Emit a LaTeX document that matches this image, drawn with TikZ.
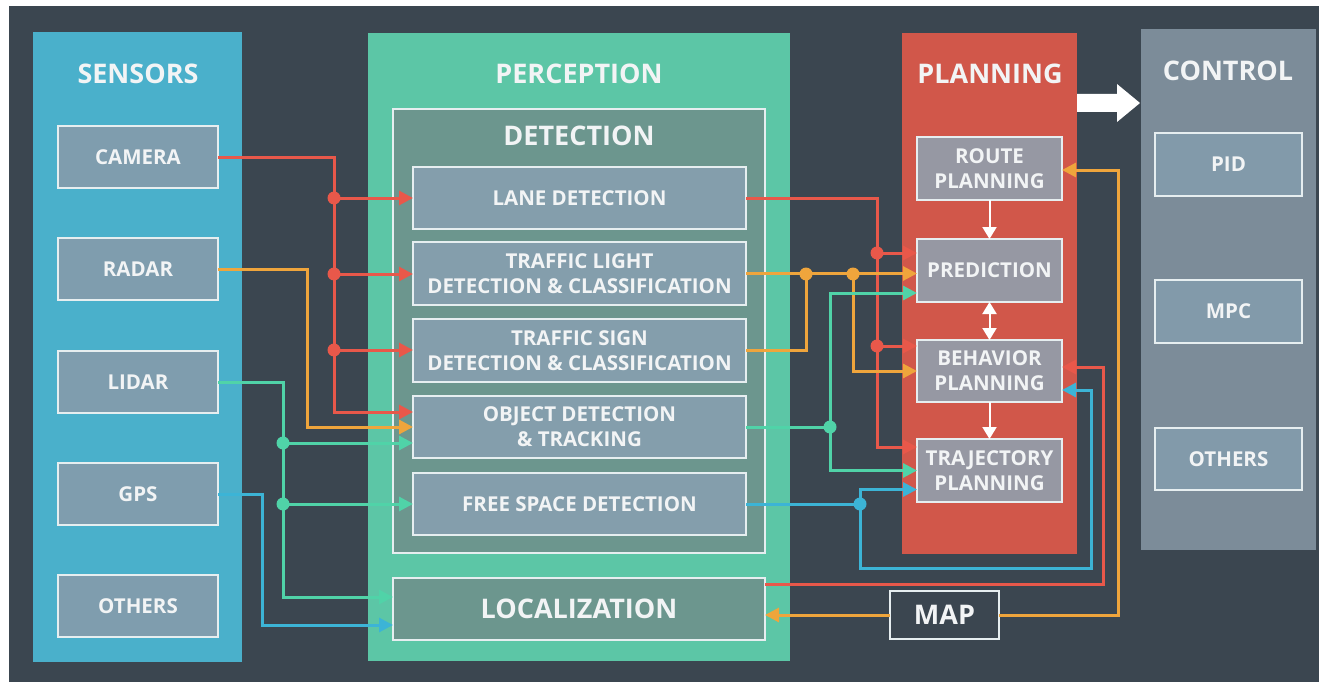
\documentclass[tikz,border=0pt]{standalone}
\usepackage{fontspec}
\setmainfont{Open Sans}
\usetikzlibrary{arrows.meta,calc}
\definecolor{bg}{HTML}{3B4650}
\definecolor{sens}{HTML}{4AB0CB}
\definecolor{sensbox}{HTML}{7F9DAE}
\definecolor{perc}{HTML}{5CC6A6}
\definecolor{detin}{HTML}{6C968E}
\definecolor{detbox}{HTML}{849EAC}
\definecolor{plan}{HTML}{D1574A}
\definecolor{planbox}{HTML}{9698A3}
\definecolor{ctrl}{HTML}{7C8C99}
\definecolor{ctrlbox}{HTML}{829AAA}
\definecolor{cred}{HTML}{E8584A}
\definecolor{corg}{HTML}{EFA53C}
\definecolor{cteal}{HTML}{50D3A8}
\definecolor{cblue}{HTML}{3CB4D6}
\definecolor{wline}{HTML}{E6EEF0}
\definecolor{txt}{HTML}{F2F4F5}
\begin{document}
\begin{tikzpicture}[x=1pt,y=-1pt,
  box/.style={draw=wline, line width=2.5pt, inner sep=0pt, outer sep=0pt, text=txt,
    font=\fontsize{20.5}{25}\selectfont\bfseries, align=center},
  bigbox/.style={box, font=\fontsize{27}{32}\selectfont\bfseries},
  head/.style={text=txt, inner sep=0pt, font=\fontsize{27}{32}\selectfont\bfseries},
  wire/.style={line width=3pt},
  conn/.style={wire, -{Triangle[length=14pt,width=14pt]}},
  wconn/.style={draw=white, line width=2pt, -{Triangle[length=12pt,width=14pt]}},
  wdconn/.style={draw=white, line width=2pt, {Triangle[length=12pt,width=14pt]}-{Triangle[length=12pt,width=14pt]}},
  jdot/.style={circle, inner sep=0pt, minimum size=13pt}
]
\useasboundingbox (0,0) rectangle (1319,682);
\fill[white] (0,0) rectangle (1319,682);
\fill[bg] (9,6) rectangle (1319,682);
% panels
\fill[sens] (33,32) rectangle (242,662);
\fill[perc] (368,33) rectangle (790,661);
\fill[plan] (902,33) rectangle (1077,554);
\fill[ctrl] (1141,29) rectangle (1316,550);
\draw[wline, fill=detin, line width=2.5pt] (393,109) rectangle (765,553);
% headers
\node[head] (hsens) at (138,74) {SENSORS};
\node[head] (hperc) at (579,74) {PERCEPTION};
\node[head] (hdet) at (579,136) {DETECTION};
\node[head] (hplan) at (990,74) {PLANNING};
\node[head] (hctrl) at (1228,71) {CONTROL};
% sensor boxes
\node[box, fill=sensbox, minimum width=160pt, minimum height=62pt] (camera) at (138,157) {CAMERA};
\node[box, fill=sensbox, minimum width=160pt, minimum height=62pt] (radar) at (138,269) {RADAR};
\node[box, fill=sensbox, minimum width=160pt, minimum height=62pt] (lidar) at (138,382) {LIDAR};
\node[box, fill=sensbox, minimum width=160pt, minimum height=62pt] (gps) at (138,494) {GPS};
\node[box, fill=sensbox, minimum width=160pt, minimum height=62pt] (sothers) at (138,606) {OTHERS};
% detection boxes
\node[box, fill=detbox, minimum width=333pt, minimum height=62pt] (lane) at (579.5,198) {LANE DETECTION};
\node[box, fill=detbox, minimum width=333pt, minimum height=63pt] (tl) at (579.5,273.5) {TRAFFIC LIGHT\\DETECTION \& CLASSIFICATION};
\node[box, fill=detbox, minimum width=333pt, minimum height=63pt] (ts) at (579.5,350.5) {TRAFFIC SIGN\\DETECTION \& CLASSIFICATION};
\node[box, fill=detbox, minimum width=333pt, minimum height=62pt] (obj) at (579.5,427) {OBJECT DETECTION\\\& TRACKING};
\node[box, fill=detbox, minimum width=333pt, minimum height=62pt] (fs) at (579.5,504) {FREE SPACE DETECTION};
\node[bigbox, fill=detin, minimum width=372pt, minimum height=62pt] (loc) at (579,609) {LOCALIZATION};
% planning boxes
\node[box, fill=planbox, minimum width=145pt, minimum height=63pt] (route) at (989.5,168.5) {ROUTE\\PLANNING};
\node[box, fill=planbox, minimum width=145pt, minimum height=63pt] (pred) at (989.5,270.5) {PREDICTION};
\node[box, fill=planbox, minimum width=145pt, minimum height=62pt] (beh) at (989.5,371) {BEHAVIOR\\PLANNING};
\node[box, fill=planbox, minimum width=145pt, minimum height=63pt] (traj) at (989.5,470.5) {TRAJECTORY\\PLANNING};
% control boxes
\node[box, fill=ctrlbox, minimum width=147pt, minimum height=63pt] (pid) at (1228.5,164.5) {PID};
\node[box, fill=ctrlbox, minimum width=147pt, minimum height=63pt] (mpc) at (1228.5,311.5) {MPC};
\node[box, fill=ctrlbox, minimum width=147pt, minimum height=62pt] (cothers) at (1228.5,459) {OTHERS};
% map
\node[bigbox, fill=bg, minimum width=109pt, minimum height=48pt] (map) at (944.5,615) {MAP};
% big arrow planning -> control
\fill[white] (1077,94) -- (1117,94) -- (1117,84) -- (1140,103) -- (1117,122) -- (1117,112) -- (1077,112) -- cycle;
% planning internal arrows
\draw[wconn] (route.south) -- (route.south |- pred.north);
\draw[wdconn] (pred.south) -- (pred.south |- beh.north);
\draw[wconn] (beh.south) -- (beh.south |- traj.north);
% junction coordinates
\coordinate (r1) at (334,198);
\coordinate (r2) at (334,274);
\coordinate (r3) at (334,350);
\coordinate (t1) at (283,443);
\coordinate (t2) at (283,504);
\coordinate (t3) at (283,597);
\coordinate (b1) at (262,625);
\coordinate (rr1) at (877,253);
\coordinate (rr2) at (877,346);
\coordinate (rr3) at (877,447);
\coordinate (o1) at (806,274);
\coordinate (o2) at (853,274);
\coordinate (tt) at (830,427);
\coordinate (tt1) at (830,293);
\coordinate (bb) at (860,504);
\coordinate (bb1) at (860,568);
\coordinate (bb2) at (1091,390);
\coordinate (lr) at (1103,367);
\coordinate (mo) at (1118,170);
% left connectors
\draw[conn,cred] (camera.east) -| (334,412) -- ($(obj.west)+(0,-15)$);
\draw[conn,cred] (r1) -- (r1 -| lane.west);
\draw[conn,cred] (r2) -- (r2 -| tl.west);
\draw[conn,cred] (r3) -- (r3 -| ts.west);
\draw[conn,corg] (radar.east) -| (307,427) -- (obj.west);
\draw[conn,cteal] (lidar.east) -| (t3) -- (t3 -| loc.west);
\draw[conn,cteal] (t1) -- (t1 -| obj.west);
\draw[conn,cteal] (t2) -- (t2 -| fs.west);
\draw[conn,cblue] (gps.east) -| (b1) -- (b1 -| loc.west);
% right connectors
\draw[conn,cred] (lane.east) -| (rr3) -- (rr3 -| traj.west);
\draw[conn,cred] (rr1) -- (rr1 -| pred.west);
\draw[conn,cred] (rr2) -- (rr2 -| beh.west);
\draw[conn,corg] (tl.east) -- (tl.east -| pred.west);
\draw[wire,corg] (ts.east) -| (o1);
\draw[conn,corg] (o2) |- (beh.west);
\draw[wire,cteal] (obj.east) -- (tt);
\draw[conn,cteal] (tt) -- (tt1) -- (tt1 -| pred.west);
\draw[conn,cteal] (tt) |- (traj.west);
\draw[wire,cblue] (fs.east) -- (bb);
\draw[conn,cblue] (bb) |- ($(traj.west)+(0,19)$);
\draw[conn,cblue] (bb) -- (bb1) -| (bb2) -- (bb2 -| beh.east);
\draw[conn,cred] ($(loc.east)+(0,-25)$) -| (lr) -- (lr -| beh.east);
\draw[conn,corg] (map.east) -| (mo) -- (mo -| route.east);
\draw[conn,corg] (map.west) -- (map.west -| loc.east);
% junction dots
\foreach \p in {r1,r2,r3,rr1,rr2} \node[jdot, fill=cred] at (\p) {};
\foreach \p in {t1,t2,tt} \node[jdot, fill=cteal] at (\p) {};
\foreach \p in {o1,o2} \node[jdot, fill=corg] at (\p) {};
\node[jdot, fill=cblue] at (bb) {};
\end{tikzpicture}
\end{document}
